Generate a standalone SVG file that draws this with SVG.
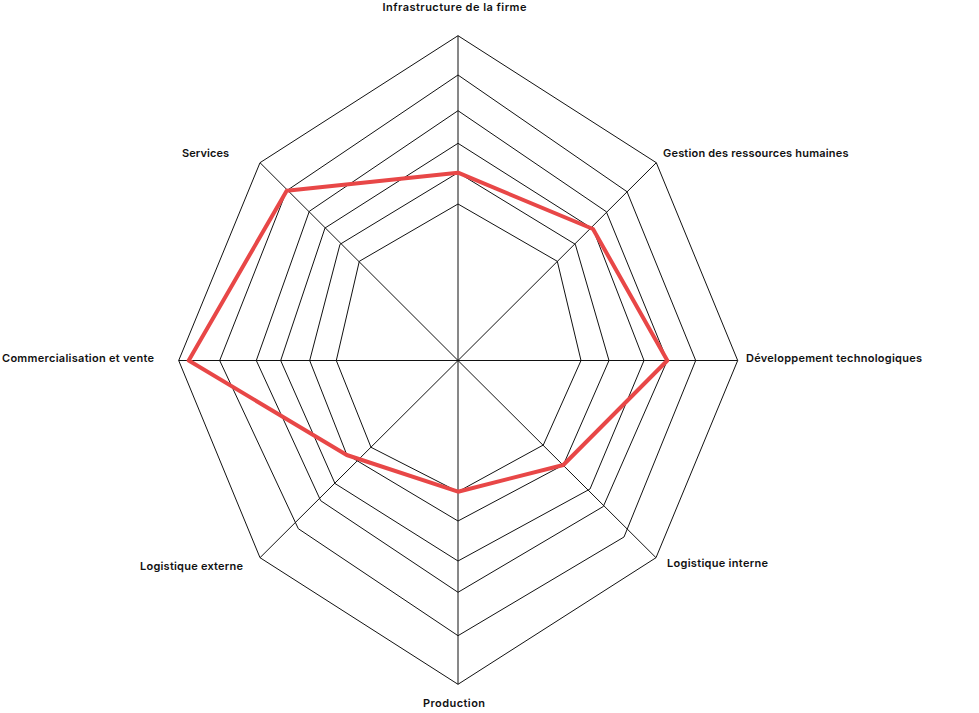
<svg xmlns="http://www.w3.org/2000/svg" width="979" height="713" viewBox="0 0 979 713">
<style>
.ring{fill:none;stroke:#111;stroke-width:1;stroke-linejoin:miter}
.spoke{stroke:#111;stroke-width:1}
.data{fill:none;stroke:#E84747;stroke-width:4;stroke-linejoin:round}
.lbl{font-family:Inter,"Liberation Sans",sans-serif;font-size:11px;font-weight:600;fill:#111}
</style>
<rect width="979" height="713" fill="#fff"/>
<g id="grid">
<polygon class="ring" points="458,35.7 656.3,162.7 737.7,360.5 656,557.7 458,684.3 260,557.7 178.7,360.5 260,162.7"/>
<polygon class="ring" points="458,75 627,191.7 695.7,360.5 624,537 458,635.7 298.3,528.7 219.7,360.5 286.7,190.7"/>
<polygon class="ring" points="458,110.7 606.3,211.7 667.3,360.5 603.3,506.5 458,592.3 320.7,500.7 256.3,360.5 309.3,211.3"/>
<polygon class="ring" points="458,143.3 593,229 644,360.5 590,489 458,561 335,483.5 280.7,360.5 325,228"/>
<polygon class="ring" points="458,172.7 575.3,244.3 609,360.5 563.3,465 458,521 346.7,454.5 309.7,360.5 340,244.3"/>
<polygon class="ring" points="458,204 557.3,261.3 581,360.5 543.3,445 458,491.7 371,447.3 336.3,360.5 359.3,261.3"/>
</g>
<g id="connectors">
<line class="spoke" x1="458" y1="360.5" x2="458" y2="35.7"/>
<line class="spoke" x1="458" y1="360.5" x2="656.3" y2="162.7"/>
<line class="spoke" x1="458" y1="360.5" x2="737.7" y2="360.5"/>
<line class="spoke" x1="458" y1="360.5" x2="656" y2="557.7"/>
<line class="spoke" x1="458" y1="360.5" x2="458" y2="684.3"/>
<line class="spoke" x1="458" y1="360.5" x2="260" y2="557.7"/>
<line class="spoke" x1="458" y1="360.5" x2="178.7" y2="360.5"/>
<line class="spoke" x1="458" y1="360.5" x2="260" y2="162.7"/>
</g>
<g id="series">
<polygon class="data" points="458,172.7 593,229 667.3,360.5 563.3,465 458,491.7 346.7,455 188.7,360.5 286.7,190.7"/>
</g>
<g id="labels">
<g id="label-infrastructure"><text class="lbl" x="382.5" y="10.5" textLength="144">Infrastructure de la firme</text></g>
<g id="label-grh"><text class="lbl" x="663" y="157" textLength="185.5">Gestion des ressources humaines</text></g>
<g id="label-dev"><text class="lbl" x="746" y="362" textLength="176">Développement technologiques</text></g>
<g id="label-log-int"><text class="lbl" x="667" y="567" textLength="101">Logistique interne</text></g>
<g id="label-production"><text class="lbl" x="423" y="707" textLength="62">Production</text></g>
<g id="label-log-ext"><text class="lbl" x="140" y="570" textLength="103">Logistique externe</text></g>
<g id="label-commercial"><text class="lbl" x="2" y="362" textLength="152">Commercialisation et vente</text></g>
<g id="label-services"><text class="lbl" x="182" y="157" textLength="47">Services</text></g>
</g>
</svg>
